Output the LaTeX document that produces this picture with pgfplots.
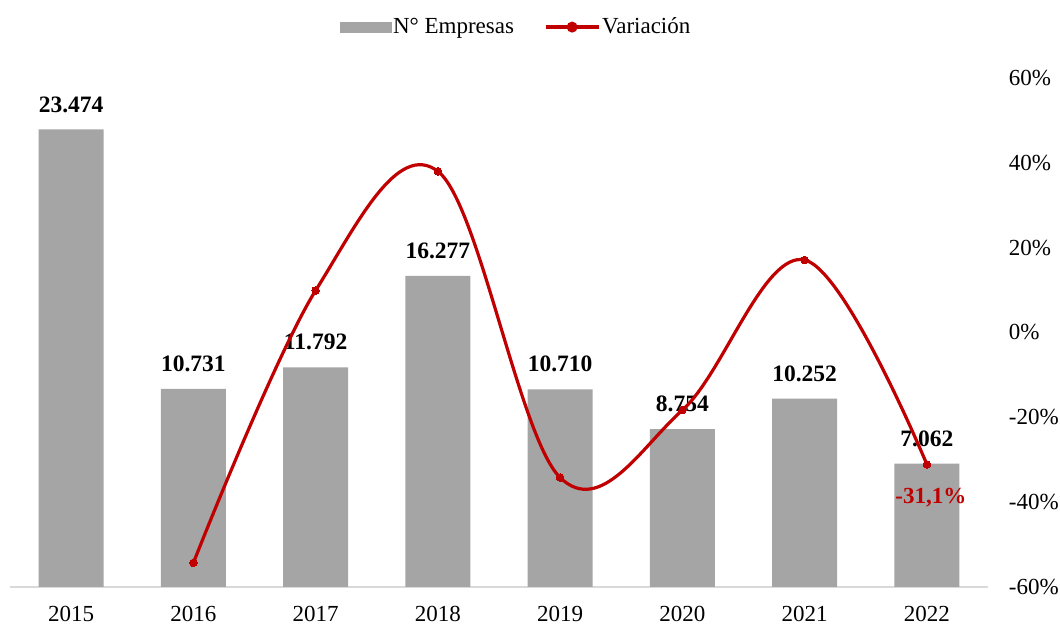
\documentclass[border=0pt]{standalone}
\usepackage{pgfplots}
\pgfplotsset{compat=1.18}
\usepackage{fontspec}
\setmainfont{Liberation Serif}
\definecolor{barGray}{HTML}{A5A5A5}
\definecolor{varRed}{HTML}{C00000}
\definecolor{axGray}{HTML}{D9D9D9}
\begin{document}
\fontsize{23bp}{27bp}\selectfont
\begin{tikzpicture}[font=\fontsize{23bp}{27bp}\selectfont]
\path[use as bounding box] (0,0) rectangle (1060bp,624bp);
\begin{axis}[
  at={(10bp,37bp)}, anchor=south west,
  scale only axis, width=978bp, height=509bp,
  xmin=-0.5, xmax=7.5, ymin=1000, ymax=26000,
  axis x line*=bottom, axis y line=none,
  x axis line style={draw=axGray, line width=1.5bp, -},
  xtick={0,1,2,3,4,5,6,7},
  xticklabels={2015,2016,2017,2018,2019,2020,2021,2022},
  major tick length=0pt,
  x tick label style={yshift=-11bp},
  ytick=\empty,
]
\addplot[ybar, bar width=0.53, fill=barGray, draw=none,
  point meta=explicit symbolic, nodes near coords,
  every node near coord/.append style={font=\fontsize{23.5bp}{27bp}\selectfont\bfseries, text=black, anchor=center, yshift=25bp}]
  coordinates {(0,23474)[23.474] (1,10731)[10.731] (2,11792)[11.792] (3,16277)[16.277]
               (4,10710)[10.710] (5,8754)[8.754] (6,10252)[10.252] (7,7062)[7.062]};
\end{axis}
\begin{axis}[
  at={(10bp,37bp)}, anchor=south west,
  scale only axis, width=978bp, height=509bp,
  xmin=-0.5, xmax=7.5, ymin=-60, ymax=60,
  axis x line=none, axis y line*=right, y axis line style={draw=none},
  ytick={-60,-40,-20,0,20,40,60},
  yticklabels={-60\%,-40\%,-20\%,0\%,20\%,40\%,60\%},
  major tick length=0pt,
  y tick label style={xshift=13bp},
  legend style={at={(0.5174,1.1)}, anchor=center, draw=none, fill=none,
    legend columns=2, /tikz/every even column/.append style={column sep=28bp},
    font=\fontsize{23bp}{27bp}\selectfont},
]
\addlegendimage{legend image code/.code={\fill[barGray] (-3bp,-5bp) rectangle (48bp,5bp);}}
\addlegendentry{N° Empresas}
\addplot[varRed, line width=3.2bp, smooth, tension=0.6, mark=*, mark size=3.8bp,
  mark options={solid, fill=varRed, draw=varRed, line width=0pt},
  legend image code/.code={\draw[varRed, line width=3.2bp] (0bp,0bp) -- (53bp,0bp);
    \fill[varRed] (26.5bp,0bp) circle (3.8bp);}]
  coordinates {(1,-54.3) (2,9.9) (3,38.0) (4,-34.2) (5,-18.3) (6,17.1) (7,-31.1)};
\addlegendentry{Variación}
\addplot[forget plot, draw=none, mark=none, point meta=explicit symbolic, nodes near coords,
  every node near coord/.append style={font=\fontsize{23bp}{27bp}\selectfont\bfseries, text=varRed, anchor=center, yshift=-33bp, xshift=4bp}]
  coordinates {(7,-31.1)[-31,1\%]};
\end{axis}
\end{tikzpicture}
\end{document}
